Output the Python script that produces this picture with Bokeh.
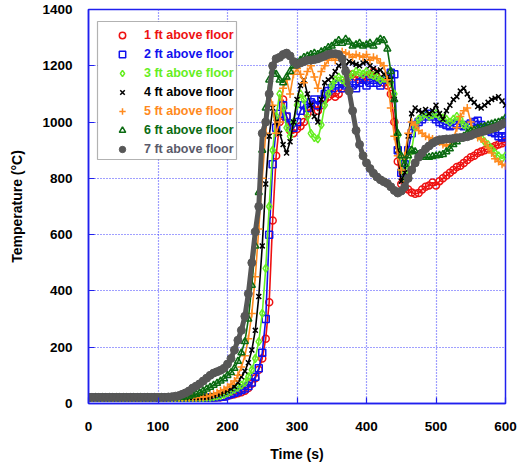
from bokeh.plotting import figure
from bokeh.models import (ColumnDataSource, FixedTicker, Legend, LegendItem,
                          BoxAnnotation, Range1d)
from bokeh.embed import file_html
from bokeh.resources import INLINE

# ---------------- data ----------------
time_s = list(range(0, 601, 5))

temp_1ft = [
    21, 21, 21, 21, 21, 21, 21, 21, 21, 21,
    21, 21, 21, 21, 21, 21, 21, 21, 21, 21,
    21, 21, 21, 21, 21, 21, 21, 21, 21, 21,
    21, 21, 21, 21, 21, 21, 21, 22, 22, 24,
    27, 30, 33, 36, 40, 45, 55, 70, 90, 120,
    160, 230, 360, 650, 880, 1000, 1080, 1020, 970, 960,
    975, 985, 1000, 1030, 1050, 1060, 1040, 1060, 1080, 1090,
    1100, 1090, 1100, 1120, 1140, 1160, 1170, 1160, 1150, 1150,
    1160, 1170, 1180, 1160, 1150, 1140, 1130, 1100, 1000, 860,
    780, 765, 760, 750, 745, 748, 760, 770, 775, 785,
    775, 790, 800, 810, 820, 830, 840, 845, 855, 865,
    875, 880, 890, 895, 900, 905, 910, 915, 920, 925,
    930]

temp_2ft = [
    21, 21, 21, 21, 21, 21, 21, 21, 21, 21,
    21, 21, 21, 21, 21, 21, 21, 21, 21, 21,
    21, 21, 21, 21, 21, 21, 21, 21, 21, 21,
    21, 21, 21, 21, 21, 21, 22, 22, 24, 25,
    30, 34, 38, 43, 48, 53, 62, 75, 95, 125,
    180, 300, 600, 850, 980, 1030, 1060, 1020, 990, 980,
    1000, 1040, 1060, 1050, 1070, 1080, 1060, 1080, 1100, 1110,
    1120, 1130, 1135, 1120, 1130, 1140, 1130, 1120, 1140, 1150,
    1130, 1140, 1150, 1140, 1130, 1150, 1160, 1175, 1170, 900,
    820, 850, 900, 960, 990, 1000, 1010, 1020, 1030, 1020,
    1010, 1000, 995, 990, 985, 990, 995, 990, 985, 990,
    995, 1000, 1005, 990, 980, 970, 965, 960, 950, 945,
    950]

temp_3ft = [
    21, 21, 21, 21, 21, 21, 21, 21, 21, 21,
    21, 21, 21, 21, 21, 21, 21, 21, 21, 21,
    21, 21, 21, 21, 21, 21, 21, 21, 21, 21,
    21, 21, 21, 21, 22, 22, 24, 26, 28, 32,
    38, 43, 50, 57, 65, 75, 95, 120, 160, 220,
    320, 480, 700, 900, 1020, 1100, 1050, 980, 950, 1000,
    1060, 1100, 1080, 1020, 960, 945, 940, 990, 1060, 1100,
    1130, 1150, 1160, 1150, 1140, 1160, 1170, 1180, 1175, 1170,
    1180, 1170, 1165, 1160, 1150, 1155, 1150, 1140, 1100, 950,
    830, 790, 830, 900, 980, 1010, 1020, 1030, 1020, 1025,
    1030, 1020, 1015, 1010, 1000, 1010, 1020, 1010, 990, 980,
    970, 960, 955, 945, 930, 920, 905, 890, 880, 870,
    880]

temp_4ft = [
    21, 21, 21, 21, 21, 21, 21, 21, 21, 21,
    21, 21, 21, 21, 21, 21, 21, 21, 21, 21,
    21, 21, 21, 21, 21, 21, 21, 21, 21, 21,
    21, 21, 21, 22, 22, 24, 28, 31, 35, 40,
    45, 52, 60, 75, 95, 115, 145, 190, 260, 380,
    560, 780, 950, 1050, 1000, 960, 920, 890, 930, 1000,
    1080, 1130, 1150, 1100, 1060, 1020, 1000, 1080, 1140, 1150,
    1160, 1180, 1200, 1210, 1200, 1215, 1210, 1205, 1200, 1210,
    1215, 1200, 1190, 1180, 1185, 1170, 1160, 1150, 1080, 900,
    790, 820, 950, 1030, 1050, 1040, 1035, 1045, 1030, 1040,
    1060, 1030, 1010, 1040, 1060, 1080, 1090, 1110, 1120, 1100,
    1080, 1070, 1055, 1050, 1060, 1070, 1080, 1085, 1090, 1075,
    1060]

temp_5ft = [
    21, 21, 21, 21, 21, 21, 21, 21, 21, 21,
    21, 21, 21, 21, 21, 21, 21, 21, 21, 21,
    21, 21, 21, 21, 21, 21, 21, 21, 21, 21,
    21, 21, 22, 23, 25, 28, 33, 38, 45, 50,
    58, 68, 80, 100, 130, 170, 230, 320, 450, 620,
    800, 960, 1100, 1060, 960, 1000, 1120, 1150, 1100, 1170,
    1190, 1170, 1140, 1180, 1200, 1160, 1120, 1180, 1200, 1220,
    1230, 1220, 1240, 1250, 1245, 1240, 1230, 1240, 1235, 1230,
    1240, 1220, 1230, 1225, 1210, 1200, 1150, 1050, 950, 880,
    830, 880, 960, 1000, 990, 970, 960, 950, 945, 940,
    935, 930, 920, 915, 920, 940, 980, 1020, 1040, 1050,
    1000, 960, 945, 940, 930, 910, 890, 870, 860, 850,
    845]

temp_6ft = [
    21, 21, 21, 21, 21, 21, 21, 21, 21, 21,
    21, 21, 21, 21, 21, 21, 21, 21, 21, 21,
    21, 21, 21, 21, 21, 21, 22, 23, 24, 26,
    30, 33, 38, 45, 52, 58, 65, 72, 80, 88,
    100, 110, 125, 150, 180, 220, 300, 420, 560, 750,
    900, 1050, 1150, 1180, 1170, 1150, 1140, 1160, 1180, 1200,
    1210, 1220, 1230, 1235, 1240, 1245, 1240, 1250, 1255, 1265,
    1270, 1280, 1290, 1280, 1295, 1285, 1270, 1275, 1280, 1270,
    1275, 1280, 1270, 1285, 1295, 1290, 1260, 1180, 1080, 960,
    880, 850, 880, 900, 895, 885, 880, 875, 875, 878,
    880, 882, 885, 895, 905, 920, 930, 940, 950, 960,
    968, 972, 978, 982, 985, 990, 993, 997, 1000, 1005,
    1015]

temp_7ft = [
    22, 22, 22, 22, 22, 22, 22, 22, 22, 22,
    22, 22, 22, 22, 22, 22, 22, 22, 22, 22,
    22, 22, 22, 23, 24, 26, 28, 33, 38, 45,
    55, 62, 70, 80, 90, 100, 108, 113, 118, 125,
    140, 160, 190, 225, 260, 310, 390, 500, 610, 700,
    960, 1000, 1100, 1200, 1225, 1230, 1240, 1245, 1235, 1215,
    1205, 1210, 1215, 1220, 1220, 1222, 1225, 1230, 1235, 1240,
    1243, 1243, 1240, 1225, 1180, 1110, 1040, 970, 920, 880,
    855, 835, 818, 805, 795, 788, 782, 770, 757, 748,
    755, 770, 800, 830, 855, 875, 890, 905, 915, 925,
    932, 937, 938, 940, 940, 942, 944, 945, 946, 948,
    952, 958, 962, 965, 968, 972, 976, 980, 985, 992,
    998]

series_names = ["1 ft above floor", "2 ft above floor", "3 ft above floor",
                "4 ft above floor", "5 ft above floor", "6 ft above floor",
                "7 ft above floor"]
series_values = [temp_1ft, temp_2ft, temp_3ft, temp_4ft, temp_5ft, temp_6ft, temp_7ft]

x_ticks = [0, 100, 200, 300, 400, 500, 600]
y_ticks = [0, 200, 400, 600, 800, 1000, 1200, 1400]
x_title = "Time (s)"
y_title = "Temperature (°C)"

# ---------------- styles ----------------
colors = ["#ee1111", "#1111ee", "#66ee22", "#000000", "#ff8a1e", "#0b6b12", "#575757"]
text_colors = ["#ee1111", "#1111ee", "#66ee22", "#000000", "#ff8a1e", "#0b6b12", "#5a5a6a"]
markers = ["circle", "square", "diamond", "x", "cross", "triangle", "circle"]
sizes = [7, 7, 8, 7, 8, 7, 8]
FONT = "Liberation Sans"
BLUE = "#2020ee"

for s in series_values:
    assert len(s) == len(time_s), len(s)

p = figure(width=517, height=464, output_backend="svg", toolbar_location=None,
           x_range=Range1d(0, 600), y_range=Range1d(0, 1400),
           min_border_left=88, min_border_right=12, min_border_top=9,
           min_border_bottom=61)
p.background_fill_color = "white"
p.border_fill_color = "white"
p.outline_line_color = BLUE
p.outline_line_width = 1.5

# grid
p.xgrid.ticker = FixedTicker(ticks=x_ticks)
p.ygrid.ticker = FixedTicker(ticks=y_ticks)
for g in (p.xgrid, p.ygrid):
    g.grid_line_color = "#4040ff"
    g.grid_line_dash = "1 2"
    g.grid_line_width = 1.2

# axes
p.xaxis.ticker = FixedTicker(ticks=x_ticks)
p.yaxis.ticker = FixedTicker(ticks=y_ticks)
for ax in (p.xaxis[0], p.yaxis[0]):
    ax.axis_line_color = BLUE
    ax.axis_line_width = 1.5
    ax.major_tick_line_color = BLUE
    ax.major_tick_line_width = 1.2
    ax.major_tick_in = 6
    ax.major_tick_out = 0
    ax.minor_tick_line_color = None
    ax.axis_label_text_font = FONT
    ax.axis_label_text_font_style = "bold"
    ax.axis_label_text_font_size = "14px"
    ax.axis_label_text_color = "black"
    ax.major_label_text_font = FONT
    ax.major_label_text_font_style = "bold"
    ax.major_label_text_font_size = "13.5px"
    ax.major_label_text_color = "black"

xa = p.xaxis[0]
xa.axis_label = x_title
xa.major_label_standoff = 18
xa.axis_label_standoff = 12

ya = p.yaxis[0]
ya.axis_label = y_title
ya.major_label_standoff = 16
ya.axis_label_standoff = 14
ya.major_label_text_baseline = "top"

# series
marker_renderers = []
for name, vals, col, mk, sz in zip(series_names, series_values, colors, markers, sizes):
    src = ColumnDataSource(dict(t=time_s, T=vals))
    is_gray = name.startswith("7")
    p.line("t", "T", source=src, line_color=col, line_width=5 if is_gray else 1.6)
    if is_gray:
        r = p.scatter("t", "T", source=src, marker=mk, size=sz,
                      fill_color=col, line_color=col, line_width=1)
    else:
        r = p.scatter("t", "T", source=src, marker=mk, size=sz,
                      fill_color=None, line_color=col, line_width=1.5)
    marker_renderers.append(r)

# legend box
p.add_layout(BoxAnnotation(left=97, right=236, top=21, bottom=159,
                           left_units="canvas", right_units="canvas",
                           top_units="canvas", bottom_units="canvas",
                           fill_color="white", fill_alpha=1.0,
                           line_color="black", line_width=1.2))

row_bottoms = [360, 341, 322, 303, 284, 265, 246]
for name, r, tc, vy in zip(series_names, marker_renderers, text_colors, row_bottoms):
    lg = Legend(items=[LegendItem(label=name, renderers=[r])], location=(26, vy),
                label_text_color=tc, label_text_font=FONT,
                label_text_font_style="bold", label_text_font_size="12.5px",
                glyph_width=16, glyph_height=16, label_height=16,
                label_standoff=14, padding=0, margin=0, spacing=0,
                border_line_color=None, background_fill_alpha=0)
    p.add_layout(lg)

open("out.html", "w").write(file_html(p, INLINE))
